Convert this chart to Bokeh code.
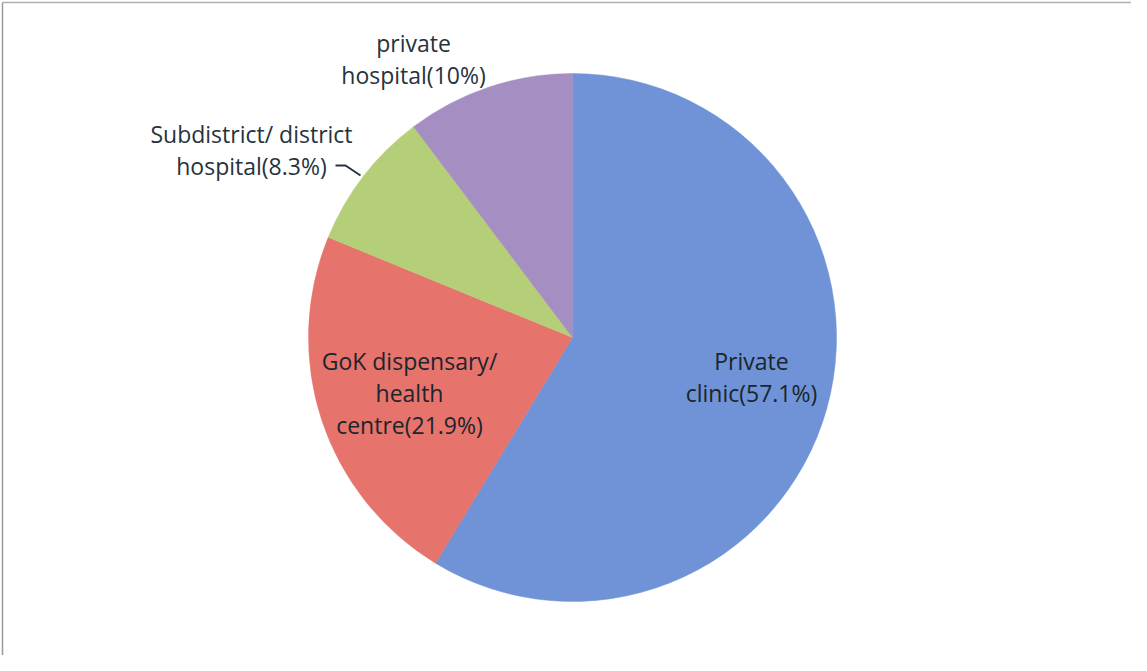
import math
from bokeh.plotting import figure
from bokeh.models import Range1d, ColumnDataSource
from bokeh.core.properties import value
from bokeh.embed import file_html
from bokeh.resources import INLINE

# ---- data ----
categories = ["Private clinic", "GoK dispensary/ health centre",
              "Subdistrict/ district hospital", "private hospital"]
percent = [57.1, 21.9, 8.3, 10.0]
label_lines = [["Private", "clinic(57.1%)"],
               ["GoK dispensary/", "health", "centre(21.9%)"],
               ["Subdistrict/ district", "hospital(8.3%)"],
               ["private", "hospital(10%)"]]
colors = ["#6F93D6", "#E6736C", "#B5CF78", "#A58EC1"]

# ---- layout (pixel-like data space) ----
W, H = 1131, 655
def px(x):  # page x -> data x
    return x - 8
def py(y):  # page y -> data y
    return H - (y - 8)

cx, cy, R = px(580), py(345), 264
# first-line baseline anchor for each label (page coords)
label_anchor = [(759, 368), (417, 368), (259, 141), (421, 50)]
line_gap = 32

total = sum(percent)
starts, ends = [], []
cum = 0.0
for v in percent:
    starts.append(math.pi / 2 - 2 * math.pi * cum / total)
    cum += v
    ends.append(math.pi / 2 - 2 * math.pi * cum / total)

src = ColumnDataSource(dict(cat=categories, start=starts, end=ends, color=colors,
                            x=[cx] * 4, y=[cy] * 4))

p = figure(width=W, height=H, x_range=Range1d(0, W), y_range=Range1d(0, H),
           output_backend="svg", toolbar_location=None, min_border=0)
p.axis.visible = False
p.grid.visible = False
p.outline_line_color = None
p.background_fill_color = "white"
p.border_fill_color = "white"

# frame (scanned page border)
p.line([px(10), px(10)], [py(10), py(663)], line_color="#9a9a9a", line_width=1.5)
p.line([px(10), px(1147)], [py(10), py(10)], line_color="#b0b0b0", line_width=1.5)

p.wedge(x="x", y="y", radius=R, start_angle="start", end_angle="end",
        direction="clock", fill_color="color", line_color="color", line_width=0.5,
        source=src)

# labels
tx, ty, tt, tc = [], [], [], []
for i, lines in enumerate(label_lines):
    ax, ay = label_anchor[i]
    for j, s in enumerate(lines):
        tx.append(px(ax))
        ty.append(py(ay + j * line_gap))
        tt.append(s)
        tc.append("#1b252c" if i < 2 else "#26333d")
p.text(x=tx, y=ty, text=tt, text_color=tc, text_font=value("Open Sans"),
       text_font_size="23px", text_align="center", text_baseline="alphabetic")

# leader line for the small slice
p.line([px(343), px(353), px(368)], [py(173), py(173), py(183)],
       line_color="#26333d", line_width=2)

open("out.html", "w").write(file_html(p, INLINE))
